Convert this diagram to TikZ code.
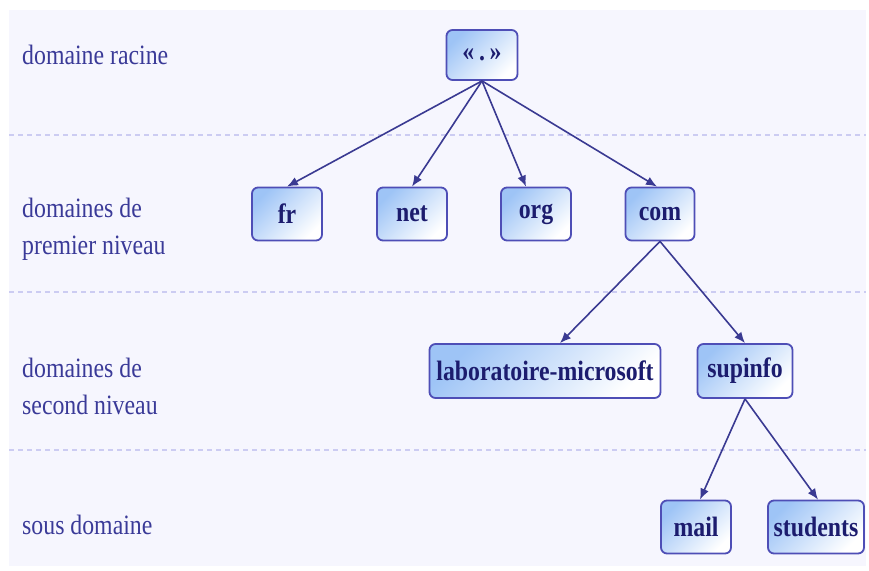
\documentclass[tikz,border=0pt]{standalone}
\usepackage{fontspec}
\setmainfont{Liberation Serif}[FakeStretch=0.85]
\usetikzlibrary{arrows.meta}
\definecolor{bgc}{HTML}{F6F6FE}
\definecolor{dashc}{HTML}{CCCCF2}
\definecolor{labc}{HTML}{3A3A98}
\definecolor{nodetxt}{HTML}{1C1C6E}
\definecolor{nodeborder}{HTML}{4E4EB6}
\definecolor{nodeblue}{HTML}{9EC4F6}
\definecolor{edgec}{HTML}{3A3A92}
\tikzset{
  dnode/.style={draw=nodeborder, line width=1.8pt, rounded corners=6pt,
    top color=nodeblue, bottom color=white, shading angle=45,
    text=nodetxt, font=\fontsize{28}{30}\selectfont\bfseries,
    minimum height=53pt, inner sep=0pt},
  lvl/.style={anchor=west, align=left, text=labc, font=\fontsize{28}{37}\selectfont, inner sep=0pt},
  sep/.style={dashc, line width=1.2pt, dash pattern=on 5pt off 4pt},
  edge/.style={edgec, line width=1.6pt, -{Latex[length=11pt,width=9pt]}}
}
\begin{document}
\begin{tikzpicture}[x=1pt,y=-1pt]
\useasboundingbox (0,0) rectangle (869,570);
\fill[bgc] (9,10) rectangle (866,566);
\draw[sep] (9,135) -- (866,135);
\draw[sep] (9,292) -- (866,292);
\draw[sep] (9,450) -- (866,450);

\node[lvl] (l1) at (22,55) {domaine racine};
\node[lvl] (l2) at (22,229) {domaines de\\premier niveau};
\node[lvl] (l3) at (22,386) {domaines de\\second niveau};
\node[lvl] (l4) at (22,525) {sous domaine};

\node[dnode, minimum width=71pt, minimum height=50pt] (root) at (482,55) {«\,.\,»};
\node[dnode, minimum width=70pt] (fr) at (287,214) {fr};
\node[dnode, minimum width=70pt] (net) at (412,214) {net};
\node[dnode, minimum width=70pt] (org) at (536,214) {org};
\node[dnode, minimum width=69pt] (com) at (660,214) {com};
\node[dnode, minimum width=231pt, minimum height=54pt] (lab) at (545,371) {laboratoire-microsoft};
\node[dnode, minimum width=95pt, minimum height=54pt] (sup) at (745,371) {supinfo};
\node[dnode, minimum width=70pt] (mail) at (696,527) {mail};
\node[dnode, minimum width=96pt] (stu) at (816,527) {students};

\draw[edge] (root.south) -- (fr.north);
\draw[edge] (root.south) -- (net.north);
\draw[edge] (root.south) -- ([xshift=-10pt]org.north);
\draw[edge] (root.south) -- ([xshift=-3pt]com.north);
\draw[edge] (com.south) -- ([xshift=15pt]lab.north);
\draw[edge] (com.south) -- (sup.north);
\draw[edge] (sup.south) -- ([xshift=4pt]mail.north);
\draw[edge] (sup.south) -- ([xshift=2pt]stu.north);
\end{tikzpicture}
\end{document}
